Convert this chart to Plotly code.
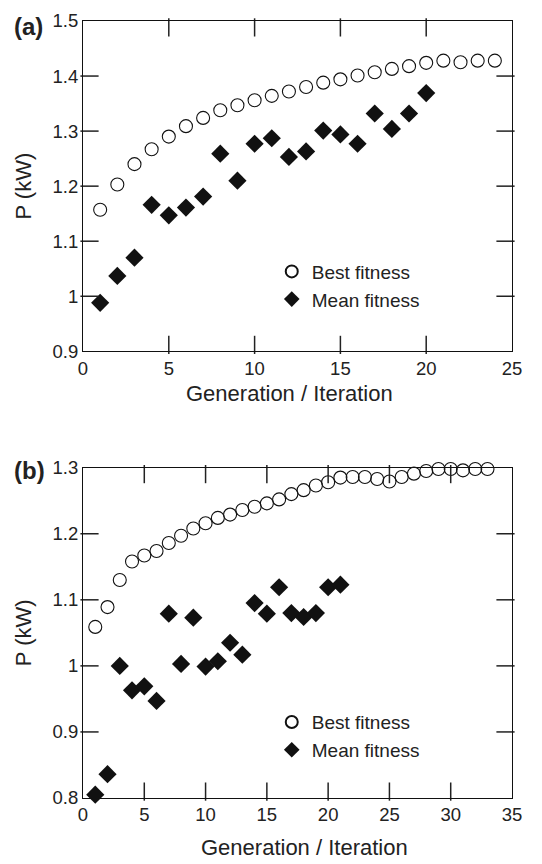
import plotly.graph_objects as go
from plotly.subplots import make_subplots

# Panel (a)
gen_a_best = list(range(1, 25))
best_a = [1.157, 1.203, 1.240, 1.267, 1.290, 1.309, 1.324, 1.338, 1.347, 1.356,
          1.364, 1.372, 1.380, 1.388, 1.394, 1.401, 1.407, 1.413, 1.418, 1.424,
          1.428, 1.425, 1.428, 1.428]
gen_a_mean = list(range(1, 21))
mean_a = [0.988, 1.037, 1.070, 1.166, 1.147, 1.161, 1.181, 1.259, 1.210, 1.277,
          1.287, 1.253, 1.263, 1.301, 1.294, 1.277, 1.332, 1.304, 1.332, 1.369]

# Panel (b)
gen_b_best = list(range(1, 34))
best_b = [1.059, 1.089, 1.130, 1.158, 1.167, 1.174, 1.186, 1.197, 1.208, 1.216,
          1.224, 1.229, 1.236, 1.241, 1.246, 1.252, 1.260, 1.266, 1.273, 1.278,
          1.285, 1.286, 1.286, 1.283, 1.279, 1.286, 1.291, 1.295, 1.298, 1.298,
          1.296, 1.298, 1.298]
gen_b_mean = list(range(1, 22))
mean_b = [0.805, 0.836, 1.000, 0.963, 0.969, 0.947, 1.079, 1.003, 1.073, 0.999,
          1.007, 1.035, 1.017, 1.095, 1.079, 1.119, 1.080, 1.074, 1.080, 1.119,
          1.123]

# Axis ranges and tick values
xrange_a = [0, 25]
yrange_a = [0.9, 1.5]
xrange_b = [0, 35]
yrange_b = [0.8, 1.3]
xticks_a = [0, 5, 10, 15, 20, 25]
yticks_a = [0.9, 1.0, 1.1, 1.2, 1.3, 1.4, 1.5]
xticks_b = [0, 5, 10, 15, 20, 25, 30, 35]
yticks_b = [0.8, 0.9, 1.0, 1.1, 1.2, 1.3]

x_title = "Generation / Iteration"
y_title = "P (kW)"

FONT = "Liberation Sans, Arial, sans-serif"
TXT = "#222222"
TICK_COLOR = "#222222"
TICK_PX = 13
PLOT_W = 542 - 83 - 30
PANEL_H = 335

fig = make_subplots(rows=2, cols=1, vertical_spacing=0.1498)

def add_panel(row, xb, yb, xm, ym, legend):
    fig.add_trace(go.Scatter(x=xb, y=yb, mode="markers", name="Best fitness",
                             cliponaxis=False,
                             marker=dict(symbol="circle-open", size=13,
                                         color="#111111", line=dict(width=1.1)),
                             legend=legend), row=row, col=1)
    fig.add_trace(go.Scatter(x=xm, y=ym, mode="markers", name="Mean fitness",
                             cliponaxis=False,
                             marker=dict(symbol="diamond", size=14, color="#111111"),
                             legend=legend), row=row, col=1)

def add_ticks(row, xr, yr, xt, yt):
    # inward tick marks on all four sides at the axis tick values
    inner_x = xt[1:-1]
    inner_y = yt[1:-1]
    dy = (TICK_PX / 2) / PANEL_H * (yr[1] - yr[0])
    dx = (TICK_PX / 2) / PLOT_W * (xr[1] - xr[0])
    style = dict(size=TICK_PX, color=TICK_COLOR,
                 line=dict(color=TICK_COLOR, width=1.5))
    for yv in (yr[0] + dy, yr[1] - dy):
        fig.add_trace(go.Scatter(x=inner_x, y=[yv] * len(inner_x), mode="markers",
                                 cliponaxis=False, showlegend=False, hoverinfo="skip",
                                 marker=dict(symbol="line-ns", **style)),
                      row=row, col=1)
    for xv in (xr[0] + dx, xr[1] - dx):
        fig.add_trace(go.Scatter(x=[xv] * len(inner_y), y=inner_y, mode="markers",
                                 cliponaxis=False, showlegend=False, hoverinfo="skip",
                                 marker=dict(symbol="line-ew", **style)),
                      row=row, col=1)

add_panel(1, gen_a_best, best_a, gen_a_mean, mean_a, "legend")
add_panel(2, gen_b_best, best_b, gen_b_mean, mean_b, "legend2")
add_ticks(1, xrange_a, yrange_a, xticks_a, yticks_a)
add_ticks(2, xrange_b, yrange_b, xticks_b, yticks_b)

tickfont = dict(family=FONT, size=18.5, color=TXT)

for ax in ["xaxis", "xaxis2", "yaxis", "yaxis2"]:
    fig.layout[ax].update(showline=True, linecolor="#111111", linewidth=1.2,
                          mirror=True, ticks="", showgrid=False, zeroline=False,
                          tickfont=tickfont)

fig.layout.xaxis.update(range=xrange_a, tickmode="array", tickvals=xticks_a)
fig.layout.xaxis2.update(range=xrange_b, tickmode="array", tickvals=xticks_b)
fig.layout.yaxis.update(range=yrange_a, tickmode="array", tickvals=yticks_a,
                        ticktext=[f"{v:g}" for v in yticks_a],
                        title=dict(text=y_title, standoff=14,
                                   font=dict(family=FONT, size=22, color=TXT)))
fig.layout.yaxis2.update(range=yrange_b, tickmode="array", tickvals=yticks_b,
                         ticktext=[f"{v:g}" for v in yticks_b],
                         title=dict(text=y_title, standoff=14,
                                    font=dict(family=FONT, size=22, color=TXT)))

leg_common = dict(font=dict(family=FONT, size=19, color=TXT),
                  bgcolor="rgba(0,0,0,0)", borderwidth=0,
                  xanchor="left", yanchor="top", itemsizing="constant",
                  tracegroupgap=0)

ann_font = dict(family=FONT, size=22, color=TXT)
fig.update_layout(
    width=542, height=864,
    margin=dict(l=83, r=30, t=10, b=66),
    paper_bgcolor="white", plot_bgcolor="white",
    showlegend=True,
    legend=dict(x=0.44, y=0.702, **leg_common),
    legend2=dict(x=0.44, y=0.122, **leg_common),
    annotations=[
        dict(text="<b>(a)</b>", xref="paper", yref="paper", x=-0.165, y=0.993,
             xanchor="left", yanchor="middle", showarrow=False,
             font=dict(family=FONT, size=24, color=TXT)),
        dict(text="<b>(b)</b>", xref="paper", yref="paper", x=-0.165, y=0.421,
             xanchor="left", yanchor="middle", showarrow=False,
             font=dict(family=FONT, size=24, color=TXT)),
        dict(text=x_title, xref="paper", yref="paper", x=0.4825, y=0.520,
             xanchor="center", yanchor="middle", showarrow=False, font=ann_font),
        dict(text=x_title, xref="paper", yref="paper", x=0.5165, y=-0.0635,
             xanchor="center", yanchor="middle", showarrow=False, font=ann_font),
    ],
)

fig.write_html("out.html")
